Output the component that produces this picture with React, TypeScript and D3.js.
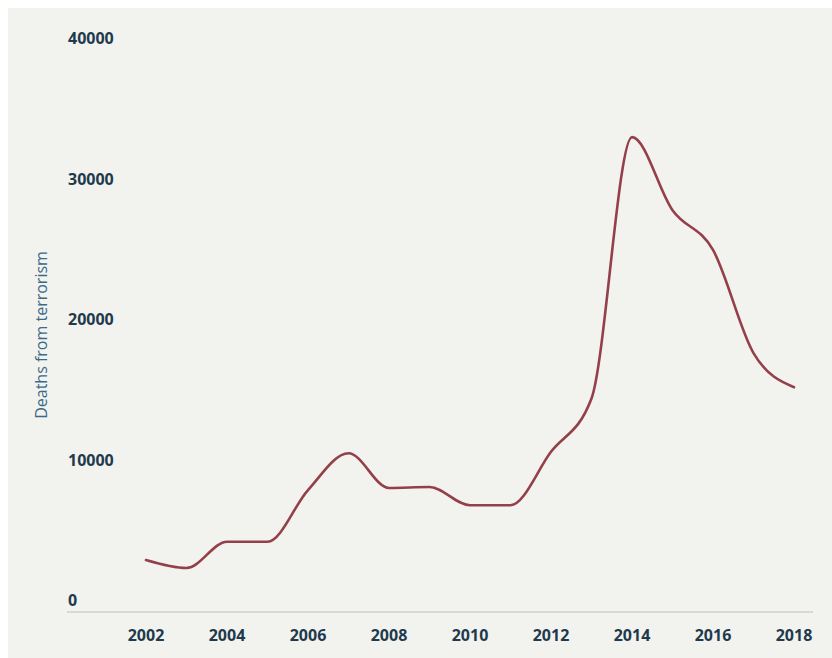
import * as d3 from "d3";
import React from "react";

// deaths from terrorism
const years = [2002, 2003, 2004, 2005, 2006, 2007, 2008, 2009, 2010, 2011, 2012, 2013, 2014, 2015, 2016, 2017, 2018];
const deaths = [3700, 3130, 5000, 5000, 8680, 11300, 8830, 8900, 7600, 7600, 11400, 15200, 33800, 28600, 25770, 18430, 16000];

const yTicks = [0, 10000, 20000, 30000, 40000];
const xTicks = [2002, 2004, 2006, 2008, 2010, 2012, 2014, 2016, 2018];

const W = 824;
const H = 650;
const OFF = 8; // svg sits at the body margin

const App: React.FC = () => {
  const x = d3.scaleLinear().domain([2002, 2018]).range([146 - OFF, 794 - OFF]);
  const y = d3.scaleLinear().domain([0, 40000]).range([612 - OFF, 50 - OFF]);

  const line = d3
    .line<number>()
    .x((_, i) => x(years[i]))
    .y((d) => y(d))
    .curve(d3.curveMonotoneX);

  const tickFont = "'Open Sans', 'DejaVu Sans', sans-serif";

  return (
    <svg
      width={W}
      height={H}
      style={{ position: "absolute", left: OFF, top: OFF, display: "block" }}
    >
      <rect x={0} y={0} width={W} height={H} fill="#f2f2ef" />

      {/* baseline */}
      <line x1={67 - OFF} x2={813 - OFF} y1={y(0)} y2={y(0)} stroke="#cfcfcc" strokeWidth={1.5} />

      {/* y tick labels sit above their level */}
      {yTicks.map((t) => (
        <text
          key={t}
          x={68 - OFF}
          y={y(t) - 6}
          fontFamily={tickFont}
          fontWeight={700}
          fontSize={16}
          fill="#1f3a4c"
        >
          {t}
        </text>
      ))}

      {xTicks.map((t) => (
        <text
          key={t}
          x={x(t)}
          y={641 - OFF}
          textAnchor="middle"
          fontFamily={tickFont}
          fontWeight={700}
          fontSize={16}
          fill="#1f3a4c"
        >
          {t}
        </text>
      ))}

      <text
        transform={`translate(${47 - OFF}, ${335 - OFF}) rotate(-90)`}
        textAnchor="middle"
        fontFamily={tickFont}
        fontWeight={400}
        fontSize={16}
        fill="#3a6a88"
      >
        Deaths from terrorism
      </text>

      <path d={line(deaths) ?? ""} fill="none" stroke="#94404a" strokeWidth={2.6} strokeLinecap="round" />
    </svg>
  );
};

export default App;
